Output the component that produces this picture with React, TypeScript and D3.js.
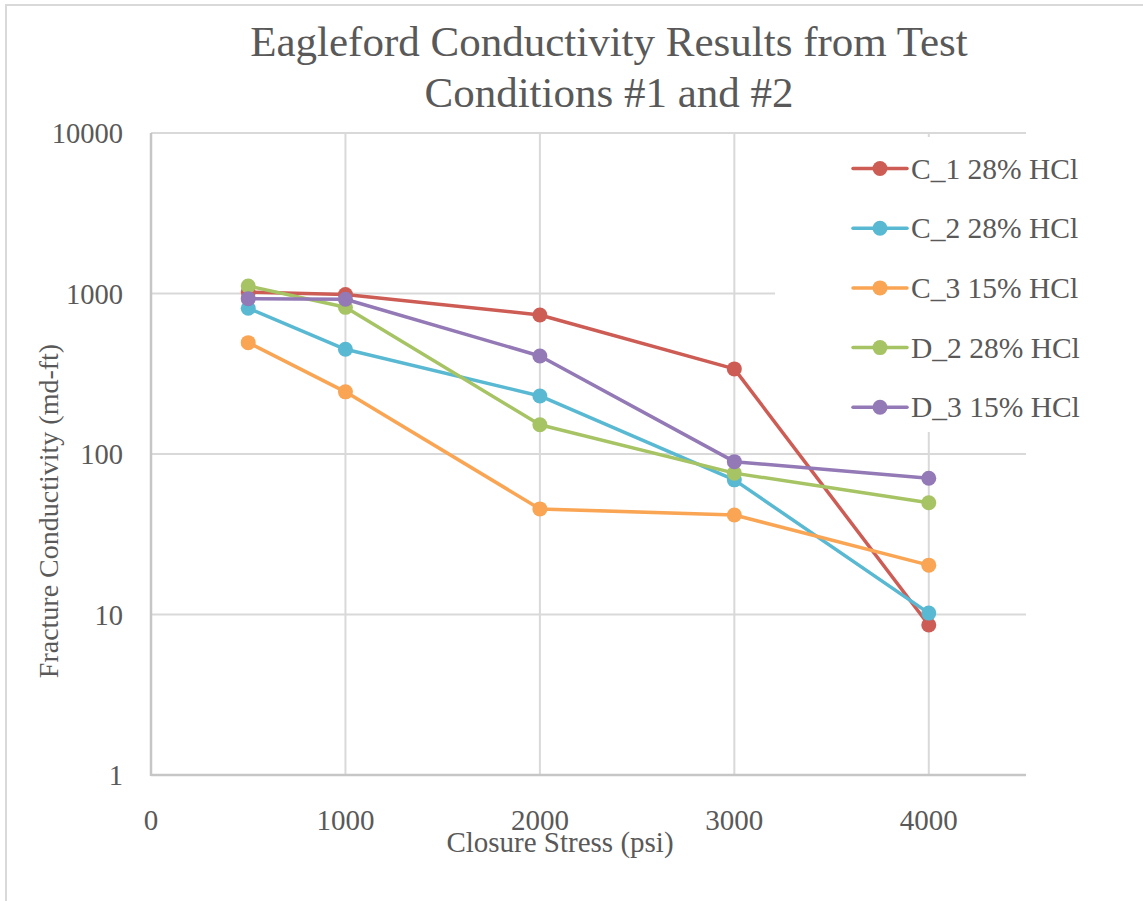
import React from "react";
import * as d3 from "d3";

// Closure stress steps (psi)
const stresses = [500, 1000, 2000, 3000, 4000];

// Fracture conductivity (md-ft) per sample
const seriesNames = ["C_1 28% HCl", "C_2 28% HCl", "C_3 15% HCl", "D_2 28% HCl", "D_3 15% HCl"];
const c1Values = [1020, 985, 735, 339, 8.6];
const c2Values = [809, 449, 230, 69, 10.2];
const c3Values = [494, 244, 45.5, 41.7, 20.3];
const d2Values = [1114, 820, 152, 76, 49.7];
const d3Values = [929, 921, 408, 89.6, 70.6];
const seriesColors = ["#CD5C55", "#59B9D3", "#F9A553", "#A6C464", "#9379B5"];

const xTicks = [0, 1000, 2000, 3000, 4000];
const yTicks = [1, 10, 100, 1000, 10000];

const W = 1143;
const H = 901;
const FONT = "'Liberation Serif', 'Times New Roman', serif";
const TEXT = "#595959";
const GRID = "#d9d9d9";

export default function App() {
  const x = d3.scaleLinear().domain([0, 4500]).range([151, 1026]);
  const y = d3.scaleLog().domain([1, 10000]).range([775, 133]);

  const allValues = [c1Values, c2Values, c3Values, d2Values, d3Values];
  const series = seriesNames.map((name, i) => ({
    name,
    color: seriesColors[i],
    points: stresses.map((s, j) => ({ s, v: allValues[i][j] })),
  }));

  const line = d3
    .line<{ s: number; v: number }>()
    .x((d) => x(d.s))
    .y((d) => y(d.v));

  const legendX = 853;
  const legendY0 = 168.5;
  const legendStep = 59.7;

  return (
    <svg
      width={W}
      height={H}
      style={{ position: "absolute", left: 0, top: 0, background: "#fff" }}
      fontFamily={FONT}
    >
      {/* chart frame */}
      <rect x={6} y={5} width={W + 20} height={H + 20} fill="#fff" stroke={GRID} strokeWidth={2} />

      {/* title */}
      <text x={609} y={56} textAnchor="middle" fontSize={43} fill={TEXT}>
        Eagleford Conductivity Results from Test
      </text>
      <text x={609} y={107} textAnchor="middle" fontSize={43} fill={TEXT}>
        Conditions #1 and #2
      </text>

      {/* horizontal gridlines */}
      {yTicks.slice(1).map((t) => (
        <line key={"hg" + t} x1={x(0)} x2={x(4500)} y1={y(t)} y2={y(t)} stroke={GRID} strokeWidth={2} />
      ))}
      {/* vertical gridlines */}
      {xTicks.slice(1).map((t) => (
        <line key={"vg" + t} x1={x(t)} x2={x(t)} y1={y(10000)} y2={y(1)} stroke={GRID} strokeWidth={2} />
      ))}

      {/* axes */}
      <line x1={x(0)} x2={x(0)} y1={y(10000)} y2={y(1) + 1} stroke="#c6c6c6" strokeWidth={2.5} />
      <line x1={x(0)} x2={x(4500)} y1={y(1)} y2={y(1)} stroke="#c6c6c6" strokeWidth={2.5} />

      {/* y tick labels */}
      {yTicks.map((t) => (
        <text key={"yt" + t} x={123} y={y(t) + 10} textAnchor="end" fontSize={28.5} fill={TEXT}>
          {t}
        </text>
      ))}
      {/* x tick labels */}
      {xTicks.map((t) => (
        <text key={"xt" + t} x={x(t)} y={830} textAnchor="middle" fontSize={29} fill={TEXT}>
          {t}
        </text>
      ))}

      {/* axis titles */}
      <text x={560} y={852} textAnchor="middle" fontSize={29} fill={TEXT}>
        Closure Stress (psi)
      </text>
      <text
        transform={`translate(58, 511) rotate(-90)`}
        textAnchor="middle"
        fontSize={28}
        fill={TEXT}
      >
        Fracture Conductivity (md-ft)
      </text>

      {/* legend background */}
      <rect x={775} y={137} width={W - 775} height={295} fill="#fff" />

      {/* series */}
      {series.map((s) => (
        <g key={s.name}>
          <path d={line(s.points) || ""} fill="none" stroke={s.color} strokeWidth={3.5} strokeLinejoin="round" strokeLinecap="round" />
          {s.points.map((p) => (
            <circle key={p.s} cx={x(p.s)} cy={y(p.v)} r={7.5} fill={s.color} />
          ))}
        </g>
      ))}

      {/* legend */}
      {series.map((s, i) => {
        const ly = legendY0 + i * legendStep;
        return (
          <g key={"lg" + s.name}>
            <line x1={legendX} x2={legendX + 54} y1={ly} y2={ly} stroke={s.color} strokeWidth={3.5} strokeLinecap="round" />
            <circle cx={legendX + 27} cy={ly} r={7.5} fill={s.color} />
            <text x={legendX + 58} y={ly + 10} fontSize={29.5} fill={TEXT}>
              {s.name}
            </text>
          </g>
        );
      })}
    </svg>
  );
}
